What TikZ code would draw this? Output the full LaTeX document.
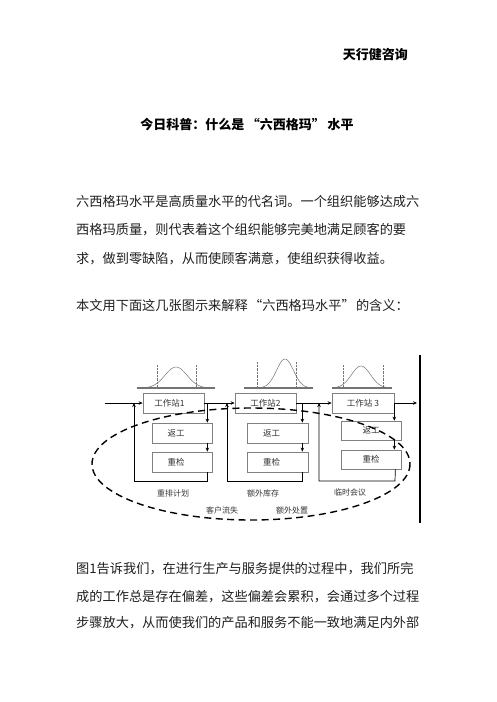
\documentclass[tikz,border=0pt]{standalone}
\usepackage{fontspec}
\newfontfamily\cjk{Noto Sans CJK SC}
\usetikzlibrary{arrows.meta}
\newcommand{\myLQ}[1]{\hspace{#1}“}
\newcommand{\myRQ}[1]{”\hspace{#1}}
\begin{document}
\begin{tikzpicture}[x=1pt,y=-1pt,
  body/.style={anchor=west,inner sep=0pt,font=\cjk\fontsize{13.2}{14}\selectfont,text=black!88},
  boxn/.style={draw=black!50,line width=0.7pt,fill=white,minimum width=61pt,minimum height=20pt,inner sep=0pt,font=\cjk\fontsize{8.5}{9}\selectfont,text=black!80},
  lab/.style={inner sep=0pt,font=\cjk\fontsize{8}{9}\selectfont,text=black!80},
  arr/.style={-{Stealth[length=4pt,width=3.5pt]},line width=0.7pt,black},
  bell/.style={black!55,line width=0.5pt},
  base/.style={black!55,line width=1.3pt},
  dotl/.style={black!55,line width=0.4pt,densely dotted}]
\useasboundingbox (0,0) rectangle (496,702);
% header texts
\node[anchor=east,inner sep=0pt,font=\cjk\bfseries\fontsize{13}{14}\selectfont] (brand) at (408,54) {天行健咨询};
\node[inner sep=0pt,font=\cjk\bfseries\fontsize{13}{14}\selectfont] (title) at (247,125) {今日科普：什么是\myLQ{0.2em}六西格玛\myRQ{0.2em}水平};
\node[body] (p1) at (76,201) {六西格玛水平是高质量水平的代名词。一个组织能够达成六};
\node[body] (p2) at (76,230) {西格玛质量，则代表着这个组织能够完美地满足顾客的要};
\node[body] (p3) at (76,259) {求，做到零缺陷，从而使顾客满意，使组织获得收益。};
\node[body] (p4) at (76,305) {本文用下面这几张图示来解释\myLQ{0.1em}六西格玛水平\myRQ{0.1em}的含义：};
\node[body] (q1) at (76,569) {图1告诉我们，在进行生产与服务提供的过程中，我们所完};
\node[body] (q2) at (76,597) {成的工作总是存在偏差，这些偏差会累积，会通过多个过程};
\node[body] (q3) at (76,623) {步骤放大，从而使我们的产品和服务不能一致地满足内外部};
% bell curves
\draw[dotl] (157,365) -- (157,388) (196,365) -- (196,388);
\draw[bell] plot[domain=137:215,samples=80,smooth] (\x,{388-21*exp(-((\x-176)^2)/(2*11*11))});
\draw[base] (137,388) -- (215,388);
\draw[dotl] (257,362) -- (257,388) (296,362) -- (296,388);
\draw[bell] plot[domain=244:313,samples=80,smooth] (\x,{388-29*exp(-((\x-285)^2)/(2*8.5*8.5))});
\draw[base] (244,388) -- (313,388);
\draw[dotl] (343,365) -- (343,388) (383,365) -- (383,388);
\draw[bell] plot[domain=332:392,samples=80,smooth] (\x,{388-22*exp(-((\x-361)^2)/(2*9.5*9.5))});
\draw[base] (332,388) -- (392,388);
% boxes
\node[boxn] (ws1) at (173.5,403) {\hspace*{-8pt}工作站1};
\node[boxn] (ws2) at (265.5,403) {工作站2};
\node[boxn,minimum width=62pt] (ws3) at (363,403) {工作站 3};
\node[boxn,minimum width=60pt] (rw1) at (182,433) {\hspace*{-12pt}返工};
\node[boxn,minimum width=60pt] (rc1) at (182,462) {\hspace*{-12pt}重检};
\node[boxn] (rw2) at (277.5,433) {\hspace*{-12pt}返工};
\node[boxn] (rc2) at (277.5,462) {\hspace*{-12pt}重检};
\node[boxn,minimum width=60pt,minimum height=19pt] (rw3) at (371,430.5) {返工};
\node[boxn,minimum width=60pt,minimum height=19pt] (rc3) at (371,459.5) {重检};
% main flow
\coordinate (in) at (105,403);
\coordinate (out) at (417,403);
\draw[arr] (in) -- (ws1.west);
\draw[arr] (ws1.east) -- (ws2.west);
\draw[arr] (ws2.east) -- (ws3.west);
\draw[arr] (ws3.east) -- (out);
% vertical bar
\coordinate (bt) at (420,355);
\coordinate (bb) at (420,523);
\draw[line width=1.5pt] (bt) -- (bb);
% station 1 loop
\coordinate (fb1) at (134,403);
\draw[arr] ([xshift=-5pt]rw1.north east |- ws1.east) -- ([xshift=-5pt]rw1.north east);
\draw[arr] ([xshift=-5pt]rw1.south east) -- ([xshift=-5pt]rc1.north east);
\draw[arr] ([xshift=-5pt]rc1.south east) -- ++(0,9) -| (fb1);
% station 2 loop
\coordinate (fb2) at (227,403);
\draw[arr] ([xshift=-6pt]rw2.north east |- ws2.east) -- ([xshift=-6pt]rw2.north east);
\draw[arr] ([xshift=-6pt]rw2.south east) -- ([xshift=-6pt]rc2.north east);
\draw[arr] ([xshift=-6pt]rc2.south east) -- ++(0,9) -| (fb2);
% station 3 loop
\coordinate (fb3) at (319,403);
\draw[arr] ([xshift=-7pt]rw3.north east |- ws3.east) -- ([xshift=-7pt]rw3.north east);
\draw[arr] ([xshift=-7pt]rw3.south east) -- ([xshift=-7pt]rc3.north east);
\draw[arr] ([xshift=-6pt]rc3.south east) -- (395,481) -| (fb3);
% labels
\node[lab] (l1) at (173,493) {重排计划};
\node[lab] (l2) at (263,493) {额外库存};
\node[lab] (l3) at (350,492) {临时会议};
\node[lab] (l4) at (222,510) {客户流失};
\node[lab] (l5) at (292,510) {额外处置};
% dashed ellipse
\draw[line width=1.4pt,dash pattern=on 7pt off 4.5pt] (251,464) ellipse [x radius=159, y radius=56];
\end{tikzpicture}
\end{document}
